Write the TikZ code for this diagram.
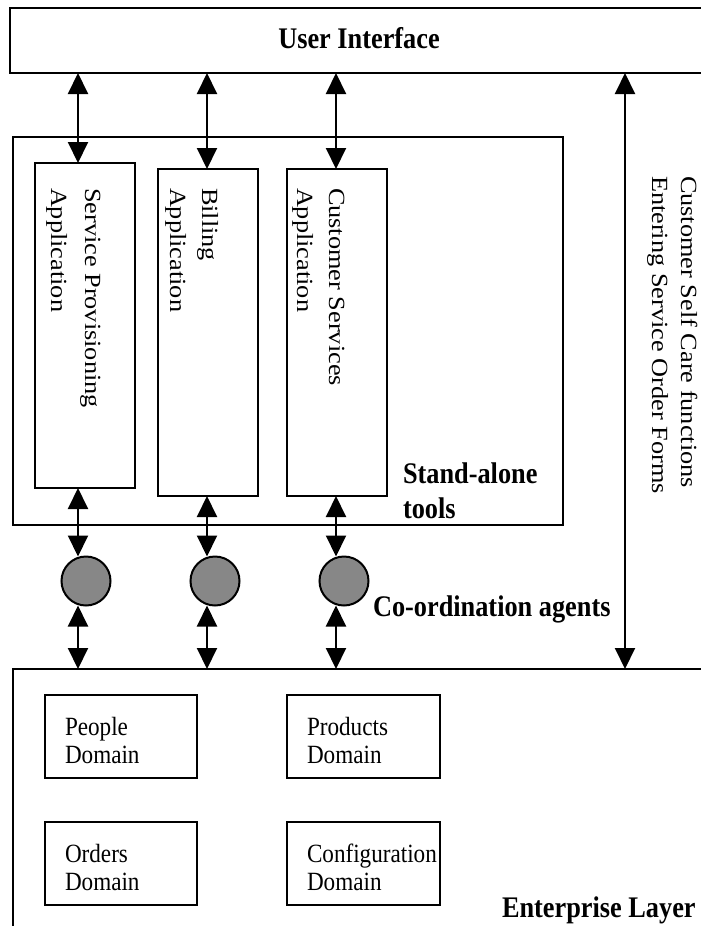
\documentclass[tikz,border=0pt]{standalone}
\usepackage{graphicx}
\usepackage{fontspec}
\setmainfont{Liberation Serif}
\usetikzlibrary{arrows.meta}
\definecolor{agentgray}{gray}{0.53}
% narrow type: squeeze across the reading direction
\newcommand{\hsq}[1]{\scalebox{0.88}[1]{#1}}
\newcommand{\vsq}[1]{\scalebox{1}[0.88]{#1}}
\begin{document}
\begin{tikzpicture}[x=1pt,y=-1pt,
  boxframe/.style={draw,rectangle,line width=2pt,inner sep=0pt,outer sep=0pt,anchor=north west},
  biarrow/.style={line width=2pt,{Triangle[length=21pt,width=20pt]}-{Triangle[length=21pt,width=20pt]}},
  agent/.style={circle,draw,line width=2pt,fill=agentgray,minimum size=49pt,inner sep=0pt,outer sep=0pt},
  lbl/.style={inner sep=0pt,outer sep=0pt,anchor=base west,font=\fontsize{26.3}{35}\selectfont},
  boldlbl/.style={lbl,font=\fontsize{29.9}{35}\selectfont\bfseries},
  vlbl/.style={lbl,rotate=-90}
]
\useasboundingbox (0,0) rectangle (701,926);
\clip (0,0) rectangle (701,926);

% user interface layer
\node[boxframe,minimum width=700,minimum height=65] (ui) at (10,8) {};
\node[boldlbl,anchor=base] (uitext) at (359,48) {\hsq{User Interface}};

% stand-alone tools
\node[boxframe,minimum width=550,minimum height=388] (tools) at (13,137) {};
\node[boldlbl] (toolsA) at (403,483) {\hsq{Stand-alone}};
\node[boldlbl] (toolsB) at (403,518) {\hsq{tools}};

\node[boxframe,minimum width=100,minimum height=325] (sp) at (35,163) {};
\node[vlbl] (spA) at (85,188) {\vsq{Service Provisioning}};
\node[vlbl] (spB) at (51,188) {\vsq{Application}};

\node[boxframe,minimum width=100,minimum height=327] (bill) at (158,169) {};
\node[vlbl] (billA) at (202,188) {\vsq{Billing}};
\node[vlbl] (billB) at (170,188) {\vsq{Application}};

\node[boxframe,minimum width=100,minimum height=327] (cs) at (287,169) {};
\node[vlbl] (csA) at (329,188) {\vsq{Customer Services}};
\node[vlbl] (csB) at (297,188) {\vsq{Application}};

% co-ordination agents
\node[agent] (ag1) at (86,581) {};
\node[agent] (ag2) at (215,581) {};
\node[agent] (ag3) at (344,581) {};
\node[boldlbl] (agtext) at (373,616) {\hsq{Co-ordination agents}};

% enterprise layer
\node[boxframe,minimum width=700,minimum height=300] (ent) at (13,669) {};
\node[boxframe,minimum width=152,minimum height=83] (people) at (45,695) {};
\node[lbl] (peopleA) at (65,735) {\hsq{People}};
\node[lbl] (peopleB) at (65,763) {\hsq{Domain}};
\node[boxframe,minimum width=153,minimum height=83] (products) at (287,695) {};
\node[lbl] (productsA) at (307,735) {\hsq{Products}};
\node[lbl] (productsB) at (307,763) {\hsq{Domain}};
\node[boxframe,minimum width=152,minimum height=83] (orders) at (45,822) {};
\node[lbl] (ordersA) at (65,862) {\hsq{Orders}};
\node[lbl] (ordersB) at (65,890) {\hsq{Domain}};
\node[boxframe,minimum width=153,minimum height=83] (config) at (287,822) {};
\node[lbl] (configA) at (307,862) {\hsq{Configuration}};
\node[lbl] (configB) at (307,890) {\hsq{Domain}};
\node[boldlbl] (enttext) at (502,917) {\hsq{Enterprise Layer}};

% self care channel
\node[vlbl] (selfcare) at (681,176) {\vsq{Customer Self Care functions}};
\node[vlbl] (orderforms) at (652,176) {\vsq{Entering Service Order Forms}};

% connector columns
\coordinate (c1) at (78,0);
\coordinate (c2) at (207,0);
\coordinate (c3) at (336,0);
\coordinate (c4) at (625,0);

\draw[biarrow] (ui.south -| c1) -- (sp.north -| c1);
\draw[biarrow] (ui.south -| c2) -- (bill.north -| c2);
\draw[biarrow] (ui.south -| c3) -- (cs.north -| c3);

\draw[biarrow] (sp.south -| c1) -- (ag1.north -| c1);
\draw[biarrow] (bill.south -| c2) -- (ag2.north -| c2);
\draw[biarrow] (cs.south -| c3) -- (ag3.north -| c3);

\draw[biarrow] (ag1.south -| c1) -- (ent.north -| c1);
\draw[biarrow] (ag2.south -| c2) -- (ent.north -| c2);
\draw[biarrow] (ag3.south -| c3) -- (ent.north -| c3);

\draw[biarrow] (ui.south -| c4) -- (ent.north -| c4);
\end{tikzpicture}
\end{document}
